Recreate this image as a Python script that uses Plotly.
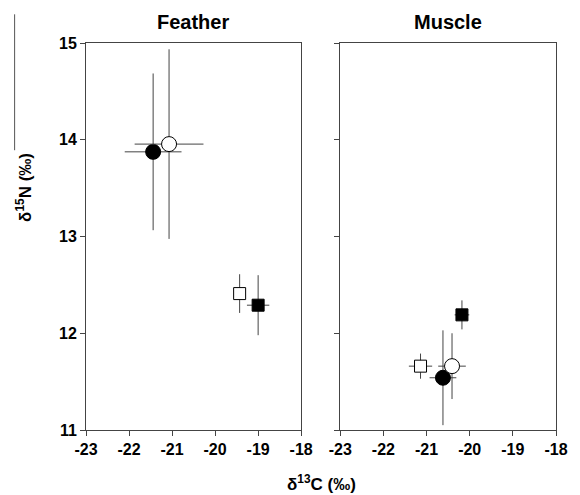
import plotly.graph_objects as go

# Feather panel
feather_x = [-21.44, -21.07, -19.43, -19.00]
feather_y = [13.875, 13.955, 12.41, 12.29]
feather_xerr = [0.66, 0.80, 0.08, 0.26]
feather_yerr = [0.81, 0.98, 0.20, 0.31]

# Muscle panel
muscle_x = [-20.62, -20.41, -21.14, -20.18]
muscle_y = [11.54, 11.66, 11.66, 12.19]
muscle_xerr = [0.31, 0.32, 0.27, 0.17]
muscle_yerr = [0.49, 0.34, 0.13, 0.15]

symbols = ["circle", "circle", "square", "square"]
fills = ["black", "white", "white", "black"]
sizes = [15, 15, 12, 12]

x_ticks = [-23, -22, -21, -20, -19, -18]
y_ticks = [11, 12, 13, 14, 15]

fig = go.Figure()
ecol = "#444444"
for xs, ys, xe, ye, xa, ya in [
    (feather_x, feather_y, feather_xerr, feather_yerr, "x", "y"),
    (muscle_x, muscle_y, muscle_xerr, muscle_yerr, "x2", "y2"),
]:
    for i in range(4):
        fig.add_trace(go.Scatter(
            x=[xs[i]], y=[ys[i]], mode="markers", xaxis=xa, yaxis=ya,
            marker=dict(symbol=symbols[i], color=fills[i], size=sizes[i],
                        line=dict(color="black", width=1)),
            error_x=dict(type="data", array=[xe[i]], color=ecol, thickness=1, width=0),
            error_y=dict(type="data", array=[ye[i]], color=ecol, thickness=1, width=0),
            showlegend=False,
        ))

axcol = "#444444"
FONT = "Liberation Sans, Arial"
tickfont = dict(family=FONT, size=16, color="black", weight="bold")
common_x = dict(range=[-23, -18], tickvals=x_ticks, ticktext=[str(v) for v in x_ticks],
                showline=True, linecolor=axcol, linewidth=1, mirror=True,
                ticks="outside", ticklen=5, tickcolor=axcol, showgrid=False,
                zeroline=False, tickfont=tickfont)
common_y = dict(range=[11, 15], tickvals=y_ticks,
                showline=True, linecolor=axcol, linewidth=1, mirror=True,
                ticks="outside", ticklen=5, tickcolor=axcol, showgrid=False,
                zeroline=False, tickfont=tickfont)

W = 480.6
H = 387.3
L = 85.7
B = 430.0

def px(xp):
    return (xp - L) / W

def py(yp):
    return (B - yp) / H

fig.update_layout(
    width=580, height=495,
    margin=dict(l=L, r=13.7, t=42.7, b=65),
    plot_bgcolor="white", paper_bgcolor="white",
    xaxis=dict(domain=[0, 0.4578], **common_x),
    xaxis2=dict(domain=[0.541, 1], anchor="y2", **common_x),
    yaxis=dict(domain=[0, 1], anchor="x", showticklabels=True,
               ticktext=[str(v) for v in y_ticks], **common_y),
    yaxis2=dict(domain=[0, 1], anchor="x2", showticklabels=False, **common_y),
    font=dict(family=FONT, color="black"),
)

title_font = dict(family=FONT, size=20, color="black", weight="bold")
axis_font = dict(family=FONT, size=17, color="black", weight="bold")
fig.add_annotation(text="Feather", xref="paper", yref="paper", x=px(195.5), y=py(22),
                   xanchor="center", yanchor="middle", showarrow=False, font=title_font)
fig.add_annotation(text="Muscle", xref="paper", yref="paper", x=px(456), y=py(22),
                   xanchor="center", yanchor="middle", showarrow=False, font=title_font)
fig.add_annotation(text="δ<sup>13</sup>C (‰)", xref="paper", yref="paper",
                   x=px(326), y=py(483), xanchor="center", yanchor="middle",
                   showarrow=False, font=axis_font)
fig.add_annotation(text="δ<sup>15</sup>N (‰)", xref="paper", yref="paper",
                   x=px(22), y=py(187), xanchor="center", yanchor="middle", textangle=-90,
                   showarrow=False, font=axis_font)
# thin vertical line at left edge as in the reference
fig.add_shape(type="line", xref="paper", yref="paper",
              x0=px(12.7), x1=px(12.7), y0=py(14), y1=py(150),
              line=dict(color="#555555", width=1))

fig.write_html("out.html",
               config={"displayModeBar": False},
               post_script="document.body.style.margin='0';document.body.style.padding='0';")
